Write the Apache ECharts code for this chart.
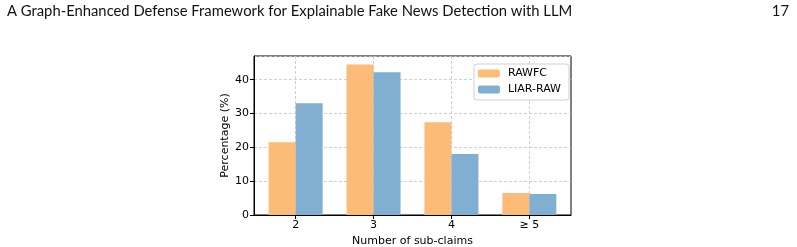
<!DOCTYPE html>
<html>
<head>
    <meta charset="utf-8">
    <title>Sub-claims distribution</title>
    <script src="https://cdn.jsdelivr.net/npm/echarts@6/dist/echarts.min.js"></script>
    <style>
        body { margin: 0; background: #fff; }
        #chart { width: 797px; height: 247px; }
    </style>
</head>
<body>
    <div id="chart"></div>

    <script type="text/javascript">
        // data
        var categories = ['2', '3', '4', '\u2265 5'];
        var rawfc = [21.5, 44.5, 27.4, 6.5];
        var liarRaw = [33.0, 42.2, 18.0, 6.2];
        var yTicks = [0, 10, 20, 30, 40];

        function toPairs(arr) {
            return arr.map(function (v, i) { return [i, v]; });
        }

        var myChart = echarts.init(document.getElementById('chart'));

        var FONT = 'DejaVu Sans';
        var grid = { color: '#c4c4c4', type: [3, 2], width: 0.8 };
        var txt = { fontFamily: FONT, fontSize: 11, color: '#000' };

        var option = {
            animation: false,
            textStyle: { fontFamily: FONT },
            graphic: [
                { type: 'text', left: 7, top: 4,
                  style: { text: 'A Graph-Enhanced Defense Framework for Explainable Fake News Detection with LLM',
                           font: '14.8px Lato', fill: '#111' } },
                { type: 'text', right: 8, top: 4,
                  style: { text: '17', font: '14.8px Lato', fill: '#111' } }
            ],
            grid: {
                left: 254, right: 226, top: 56, bottom: 32,
                outerBoundsMode: 'none',
                show: true, borderColor: '#000', borderWidth: 1
            },
            legend: {
                right: 228, top: 64,
                orient: 'vertical',
                padding: [4, 8, 5, 4],
                itemWidth: 22, itemHeight: 8, itemGap: 5,
                backgroundColor: '#fff',
                borderColor: '#d0d0d0', borderWidth: 1, borderRadius: 3,
                textStyle: { fontFamily: FONT, fontSize: 11, color: '#000', padding: [0, 0, 0, 3] },
                data: ['RAWFC', 'LIAR-RAW']
            },
            xAxis: {
                type: 'value',
                min: -0.535, max: 3.535,
                name: 'Number of sub-claims',
                nameLocation: 'middle', nameGap: 16,
                nameTextStyle: txt,
                axisLine: { onZero: false, lineStyle: { color: '#000' } },
                axisTick: { customValues: [0, 1, 2, 3], length: 4, lineStyle: { color: '#000' } },
                axisLabel: {
                    customValues: [0, 1, 2, 3],
                    fontFamily: FONT, fontSize: 11, color: '#000', margin: 5,
                    formatter: function (v) { return categories[Math.round(v)]; }
                },
                splitLine: { show: true, lineStyle: grid }
            },
            yAxis: {
                type: 'value',
                min: 0, max: 47, interval: 10,
                name: 'Percentage (%)',
                nameLocation: 'middle', nameGap: 20,
                nameTextStyle: txt,
                axisLine: { show: true, onZero: false, lineStyle: { color: '#000' } },
                axisTick: { show: true, length: 4, lineStyle: { color: '#000' } },
                axisLabel: {
                    fontFamily: FONT, fontSize: 11, color: '#000', margin: 5, showMaxLabel: false,
                    formatter: function (v) { return yTicks.indexOf(v) >= 0 ? v : ''; }
                },
                splitLine: { show: true, lineStyle: grid }
            },
            series: [
                { name: 'RAWFC', type: 'bar', data: toPairs(rawfc),
                  barWidth: 27, barGap: '0%', itemStyle: { color: '#fdbb78' } },
                { name: 'LIAR-RAW', type: 'bar', data: toPairs(liarRaw),
                  barWidth: 27, barGap: '0%', itemStyle: { color: '#81afd2' } }
            ]
        };

        myChart.setOption(option);
    </script>
</body>
</html>
